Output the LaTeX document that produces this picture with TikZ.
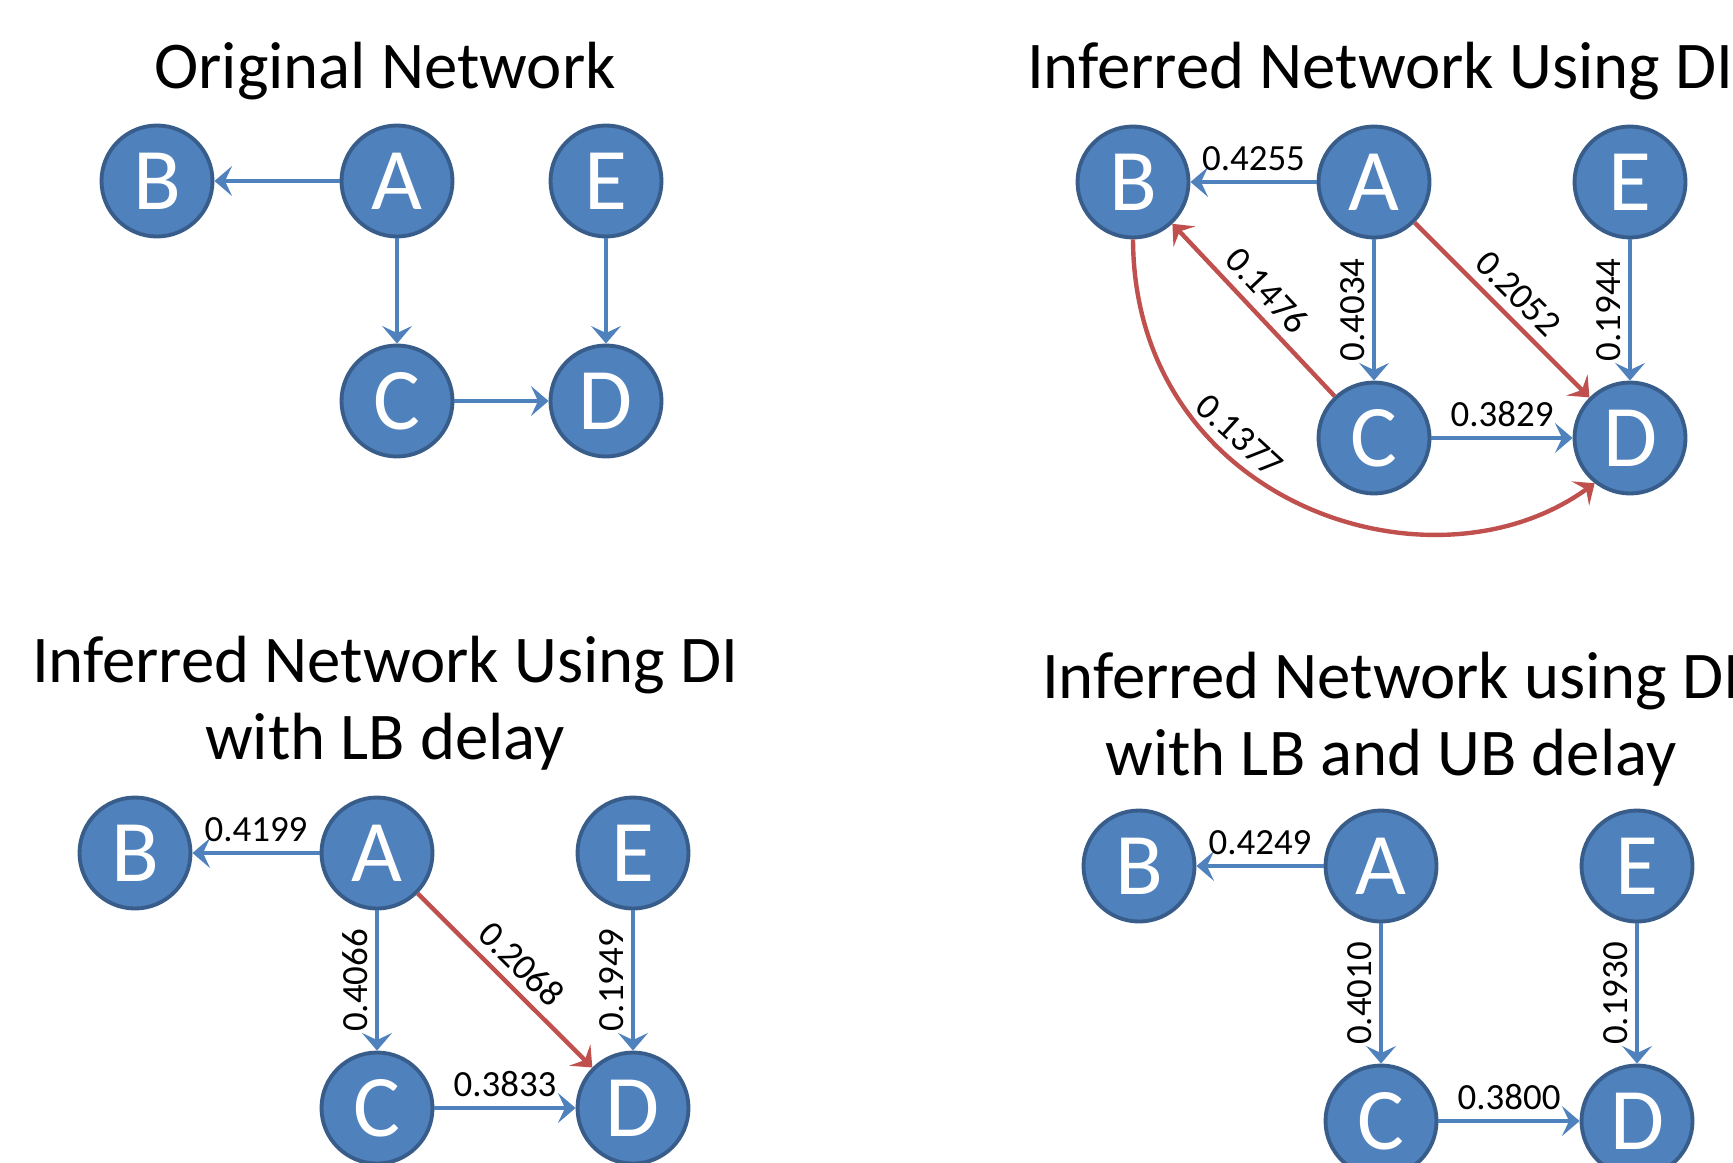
\documentclass[tikz,border=0pt]{standalone}
\usepackage{fontspec}
\setmainfont{Carlito}
\usetikzlibrary{arrows.meta}
\definecolor{nodeblue}{HTML}{4F81BD}
\definecolor{rimblue}{HTML}{385D8A}
\definecolor{edgered}{HTML}{C0504D}

\begin{document}
\begin{tikzpicture}[
    vertex/.style={circle, fill=nodeblue, draw=rimblue, line width=1.1pt, minimum size=1.11cm, inner sep=0pt, text=white, font=\fontsize{25}{25}\selectfont},
    blueedge/.style={draw=nodeblue, line width=1.25pt, -{Stealth[length=5pt, width=8.5pt, inset=2pt]}},
    rededge/.style={draw=edgered, line width=1.25pt, -{Stealth[length=5pt, width=8.5pt, inset=2pt]}},
    weight/.style={font=\fontsize{10.5}{10.5}\selectfont, inner sep=2.5pt},
    vweight/.style={weight, rotate=90, anchor=south, inner sep=2pt},
    title/.style={font=\fontsize{19}{21.9}\selectfont, align=center, anchor=base}
]
    \useasboundingbox (0, 0) rectangle (17.33, 11.62);

    % Titles (base = last line)
    \node[title] (t1) at (3.85, 10.74) {Original Network};
    \node[title] (t2) at (13.80, 10.74) {Inferred Network Using DI};
    \node[title] (t3) at (3.85, 4.03) {Inferred Network Using DI\\with LB delay};
    \node[title] (t4) at (13.91, 3.87) {Inferred Network using DI\\with LB and UB delay};

    % Original network
    \node[vertex] (oB) at (1.57, 9.81) {B};
    \node[vertex] (oA) at (3.97, 9.81) {A};
    \node[vertex] (oE) at (6.06, 9.81) {E};
    \node[vertex] (oC) at (3.97, 7.61) {C};
    \node[vertex] (oD) at (6.06, 7.61) {D};
    \draw[blueedge] (oA) -- (oB);
    \draw[blueedge] (oA) -- (oC);
    \draw[blueedge] (oE) -- (oD);
    \draw[blueedge] (oC) -- (oD);

    % Inferred using DI
    \node[vertex] (iB) at (11.33, 9.80) {B};
    \node[vertex] (iA) at (13.74, 9.80) {A};
    \node[vertex] (iE) at (16.30, 9.80) {E};
    \node[vertex] (iC) at (13.74, 7.24) {C};
    \node[vertex] (iD) at (16.30, 7.24) {D};
    \draw[blueedge] (iA) -- node[weight, above] {0.4255} (iB);
    \draw[blueedge] (iA) -- node[vweight] {0.4034} (iC);
    \draw[blueedge] (iE) -- node[vweight] {0.1944} (iD);
    \draw[blueedge] (iC) -- node[weight, above] {0.3829} (iD);
    \draw[rededge] (iA) -- node[weight, sloped, above] {0.2052} (iD);
    \draw[rededge] (iC) -- node[weight, sloped, above, pos=0.52] {0.1476} (iB);
    \draw[rededge] (iB.south) .. controls (11.34, 6.6) and (14.3, 5.6) .. node[weight, sloped, above, pos=0.35] {0.1377} (iD.-128);

    % Inferred using DI with LB delay
    \node[vertex] (lB) at (1.35, 3.09) {B};
    \node[vertex] (lA) at (3.77, 3.09) {A};
    \node[vertex] (lE) at (6.33, 3.09) {E};
    \node[vertex] (lC) at (3.77, 0.54) {C};
    \node[vertex] (lD) at (6.33, 0.54) {D};
    \draw[blueedge] (lA) -- node[weight, above] {0.4199} (lB);
    \draw[blueedge] (lA) -- node[vweight] {0.4066} (lC);
    \draw[blueedge] (lE) -- node[vweight] {0.1949} (lD);
    \draw[blueedge] (lC) -- node[weight, above] {0.3833} (lD);
    \draw[rededge] (lA) -- node[weight, sloped, above] {0.2068} (lD);

    % Inferred using DI with LB and UB delay
    \node[vertex] (uB) at (11.39, 2.96) {B};
    \node[vertex] (uA) at (13.81, 2.96) {A};
    \node[vertex] (uE) at (16.37, 2.96) {E};
    \node[vertex] (uC) at (13.81, 0.41) {C};
    \node[vertex] (uD) at (16.37, 0.41) {D};
    \draw[blueedge] (uA) -- node[weight, above] {0.4249} (uB);
    \draw[blueedge] (uA) -- node[vweight] {0.4010} (uC);
    \draw[blueedge] (uE) -- node[vweight] {0.1930} (uD);
    \draw[blueedge] (uC) -- node[weight, above] {0.3800} (uD);
\end{tikzpicture}
\end{document}
